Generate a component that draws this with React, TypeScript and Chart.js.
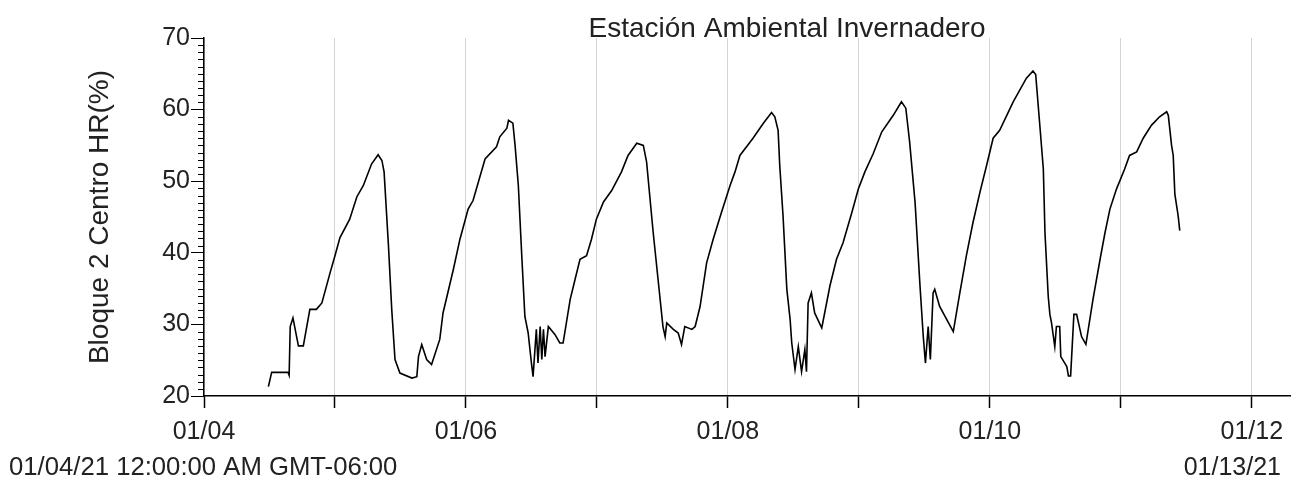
import React, { useEffect, useRef } from "react";
import { Chart, registerables } from "chart.js";

Chart.register(...registerables);

// Hours since 01/04/21 12:00:00 AM
const hours: number[] = [
  11.8, 12.4, 13.2, 15.4, 15.6, 15.8, 16.3, 17.3, 18.2, 19.4,
  20.6, 21.6, 23.1, 24.0, 24.9, 26.7, 28.0, 29.2, 30.7, 31.9,
  32.6, 33.0, 33.8, 34.4, 35.0, 35.9, 38.1, 39.0, 39.3, 39.9,
  40.8, 41.7, 43.2, 43.8, 45.7, 46.9, 48.4, 49.3, 51.5, 53.6,
  54.2, 55.5, 55.8, 56.6, 57.0, 57.6, 58.2, 58.8, 59.4, 60.0,
  60.3, 60.9, 61.2, 61.6, 61.9, 62.2, 62.5, 63.1, 64.3, 65.2,
  65.8, 66.4, 67.1, 68.0, 68.9, 70.1, 71.0, 71.9, 73.2, 74.7,
  76.5, 77.7, 79.3, 80.5, 81.1, 82.3, 83.2, 84.1, 84.5, 84.8,
  86.0, 86.9, 87.5, 88.1, 89.4, 90.0, 90.9, 92.1, 93.3, 94.8,
  96.4, 97.3, 98.2, 100.6, 102.5, 104.0, 104.6, 105.2, 105.5, 106.1,
  106.8, 107.4, 107.7, 108.3, 108.9, 109.5, 110.1, 110.4, 110.7, 111.3,
  111.9, 113.2, 114.7, 115.9, 117.1, 118.7, 119.9, 121.1, 122.6, 124.2,
  126.3, 127.8, 128.6, 129.3, 130.3, 131.2, 131.8, 132.2, 132.7, 133.1,
  133.6, 133.9, 134.8, 137.3, 138.5, 139.7, 140.9, 142.2, 143.4, 144.6,
  145.8, 148.3, 150.7, 151.9, 152.4, 153.2, 153.8, 154.1, 154.7, 155.0,
  155.3, 155.9, 156.2, 156.8, 157.0, 158.1, 158.4, 158.8, 159.4, 159.9,
  160.8, 161.6, 162.9, 164.2, 165.1, 166.0, 167.2, 168.7, 169.6, 170.9,
  172.1, 173.6, 175.1, 176.4, 176.7, 177.3, 177.6, 177.9, 178.5, 178.8,
];

// Bloque 2 Centro HR(%)
const humidity: number[] = [
  21.3, 23.3, 23.3, 23.3, 22.9, 29.7, 30.9, 27.0, 27.0, 32.1,
  32.1, 33.0, 37.2, 39.6, 42.1, 44.7, 47.8, 49.4, 52.4, 53.7,
  52.9, 51.3, 41.0, 32.1, 25.1, 23.2, 22.5, 22.7, 25.5, 27.2,
  25.1, 24.4, 27.9, 31.6, 37.7, 41.9, 46.1, 47.3, 53.1, 54.8,
  56.2, 57.4, 58.5, 58.1, 55.0, 49.4, 40.0, 31.1, 28.8, 24.6,
  22.7, 29.3, 24.6, 29.7, 25.1, 29.3, 25.5, 29.7, 28.6, 27.4,
  27.4, 30.2, 33.5, 36.3, 39.1, 39.6, 41.9, 44.7, 47.1, 48.7,
  51.3, 53.6, 55.3, 55.0, 52.7, 42.9, 36.3, 29.7, 28.3, 30.2,
  29.3, 28.8, 27.2, 29.7, 29.3, 29.7, 32.5, 38.6, 41.9, 45.6,
  49.4, 51.3, 53.6, 56.0, 58.1, 59.6, 59.0, 57.1, 52.2, 45.2,
  34.9, 30.7, 27.4, 23.7, 26.9, 23.4, 26.5, 23.4, 33.0, 34.4,
  31.6, 29.5, 35.4, 39.1, 41.4, 45.6, 48.9, 51.3, 53.8, 56.9,
  59.2, 61.1, 60.2, 55.5, 47.0, 35.4, 28.3, 24.6, 29.7, 25.1,
  34.4, 34.9, 32.5, 29.0, 34.4, 39.6, 44.2, 48.5, 52.2, 56.0,
  57.1, 61.1, 64.4, 65.4, 64.9, 57.4, 51.7, 42.8, 33.9, 31.4,
  30.2, 26.9, 29.7, 29.7, 25.5, 24.1, 22.8, 22.8, 31.4, 31.4,
  28.3, 27.2, 33.5, 39.1, 42.8, 46.1, 48.9, 51.7, 53.6, 54.1,
  56.0, 57.8, 59.0, 59.7, 59.2, 55.0, 53.6, 48.2, 45.2, 43.1,
];

// Day labels (every day has a tick; only even days are labelled)
const dayLabels: string[] = ["01/04", "", "01/06", "", "01/08", "", "01/10", "", "01/12"];

const chartTitle = "Estación Ambiental Invernadero";
const yTitle = "Bloque 2 Centro HR(%)";
const startLabel = "01/04/21 12:00:00 AM GMT-06:00";
const endLabel = "01/13/21";

const X_MAX_HOURS = 199;
const Y_MIN = 20;
const Y_MAX = 70;

const FONT = "'Liberation Sans', Arial, sans-serif";
const TEXT = "#222";

const extrasPlugin = {
  id: "extras",
  afterDraw(chart: any) {
    const ctx = chart.ctx as CanvasRenderingContext2D;
    const y = chart.scales.y;
    const area = chart.chartArea;
    ctx.save();
    // minor ticks on the y axis
    ctx.strokeStyle = "#000";
    ctx.lineWidth = 1;
    for (let v = Y_MIN + 1; v < Y_MAX; v++) {
      if (v % 10 === 0) continue;
      const py = Math.round(y.getPixelForValue(v)) + 0.5;
      ctx.beginPath();
      ctx.moveTo(area.left - 6, py);
      ctx.lineTo(area.left, py);
      ctx.stroke();
    }
    // chart title
    ctx.fillStyle = TEXT;
    ctx.font = `28px ${FONT}`;
    ctx.textAlign = "center";
    ctx.textBaseline = "alphabetic";
    ctx.fillText(chartTitle, 787, 37);
    // range labels
    ctx.font = `25.7px ${FONT}`;
    ctx.textAlign = "left";
    ctx.fillText(startLabel, 9, 475);
    ctx.font = `25px ${FONT}`;
    ctx.textAlign = "right";
    ctx.fillText(endLabel, 1281, 475);
    ctx.restore();
  },
};

export default function App() {
  const canvasRef = useRef<HTMLCanvasElement | null>(null);

  useEffect(() => {
    if (!canvasRef.current) return;
    const points = hours.map((h, i) => ({ x: h, y: humidity[i] }));
    const chart = new Chart(canvasRef.current, {
      type: "line",
      data: {
        datasets: [
          {
            data: points,
            borderColor: "#000",
            borderWidth: 1.6,
            pointRadius: 0,
            tension: 0,
            fill: false,
          },
        ],
      },
      options: {
        animation: false,
        responsive: false,
        devicePixelRatio: 1,
        parsing: false as any,
        layout: { padding: { top: 38, right: 11, left: 0, bottom: 0 } },
        plugins: {
          legend: { display: false },
          title: { display: false },
          tooltip: { enabled: false },
        },
        scales: {
          x: {
            type: "linear",
            min: 0,
            max: X_MAX_HOURS,
            afterFit(scale: any) {
              scale.height = 84;
            },
            border: { display: true, color: "#000", width: 1.5 },
            grid: {
              display: true,
              color: "#d4d4d4",
              lineWidth: 1,
              drawTicks: true,
              tickLength: 12,
              tickColor: "#000",
              tickWidth: 1.5,
            },
            ticks: {
              stepSize: 24,
              includeBounds: false,
              autoSkip: false,
              maxRotation: 0,
              padding: 9,
              color: TEXT,
              font: { family: FONT, size: 25 },
              callback: (v: any) => {
                const idx = Math.round(Number(v) / 24);
                return dayLabels[idx] ?? "";
              },
            },
          },
          y: {
            type: "linear",
            min: Y_MIN,
            max: Y_MAX,
            afterFit(scale: any) {
              scale.width = 204;
            },
            border: { display: true, color: "#000", width: 1.5 },
            grid: {
              display: true,
              drawOnChartArea: false,
              drawTicks: true,
              tickLength: 13,
              tickColor: "#000",
              tickWidth: 1,
            },
            ticks: {
              stepSize: 10,
              padding: 1,
              color: TEXT,
              font: { family: FONT, size: 25 },
            },
            title: {
              display: true,
              text: yTitle,
              color: TEXT,
              font: { family: FONT, size: 28 },
              padding: { top: 83, bottom: 0 },
            },
          },
        },
      },
      plugins: [extrasPlugin],
    });
    return () => chart.destroy();
  }, []);

  return (
    <div style={{ position: "absolute", left: 0, top: 0, width: 1301, height: 480, background: "#fff" }}>
      <canvas ref={canvasRef} width={1301} height={480} style={{ display: "block" }} />
    </div>
  );
}
